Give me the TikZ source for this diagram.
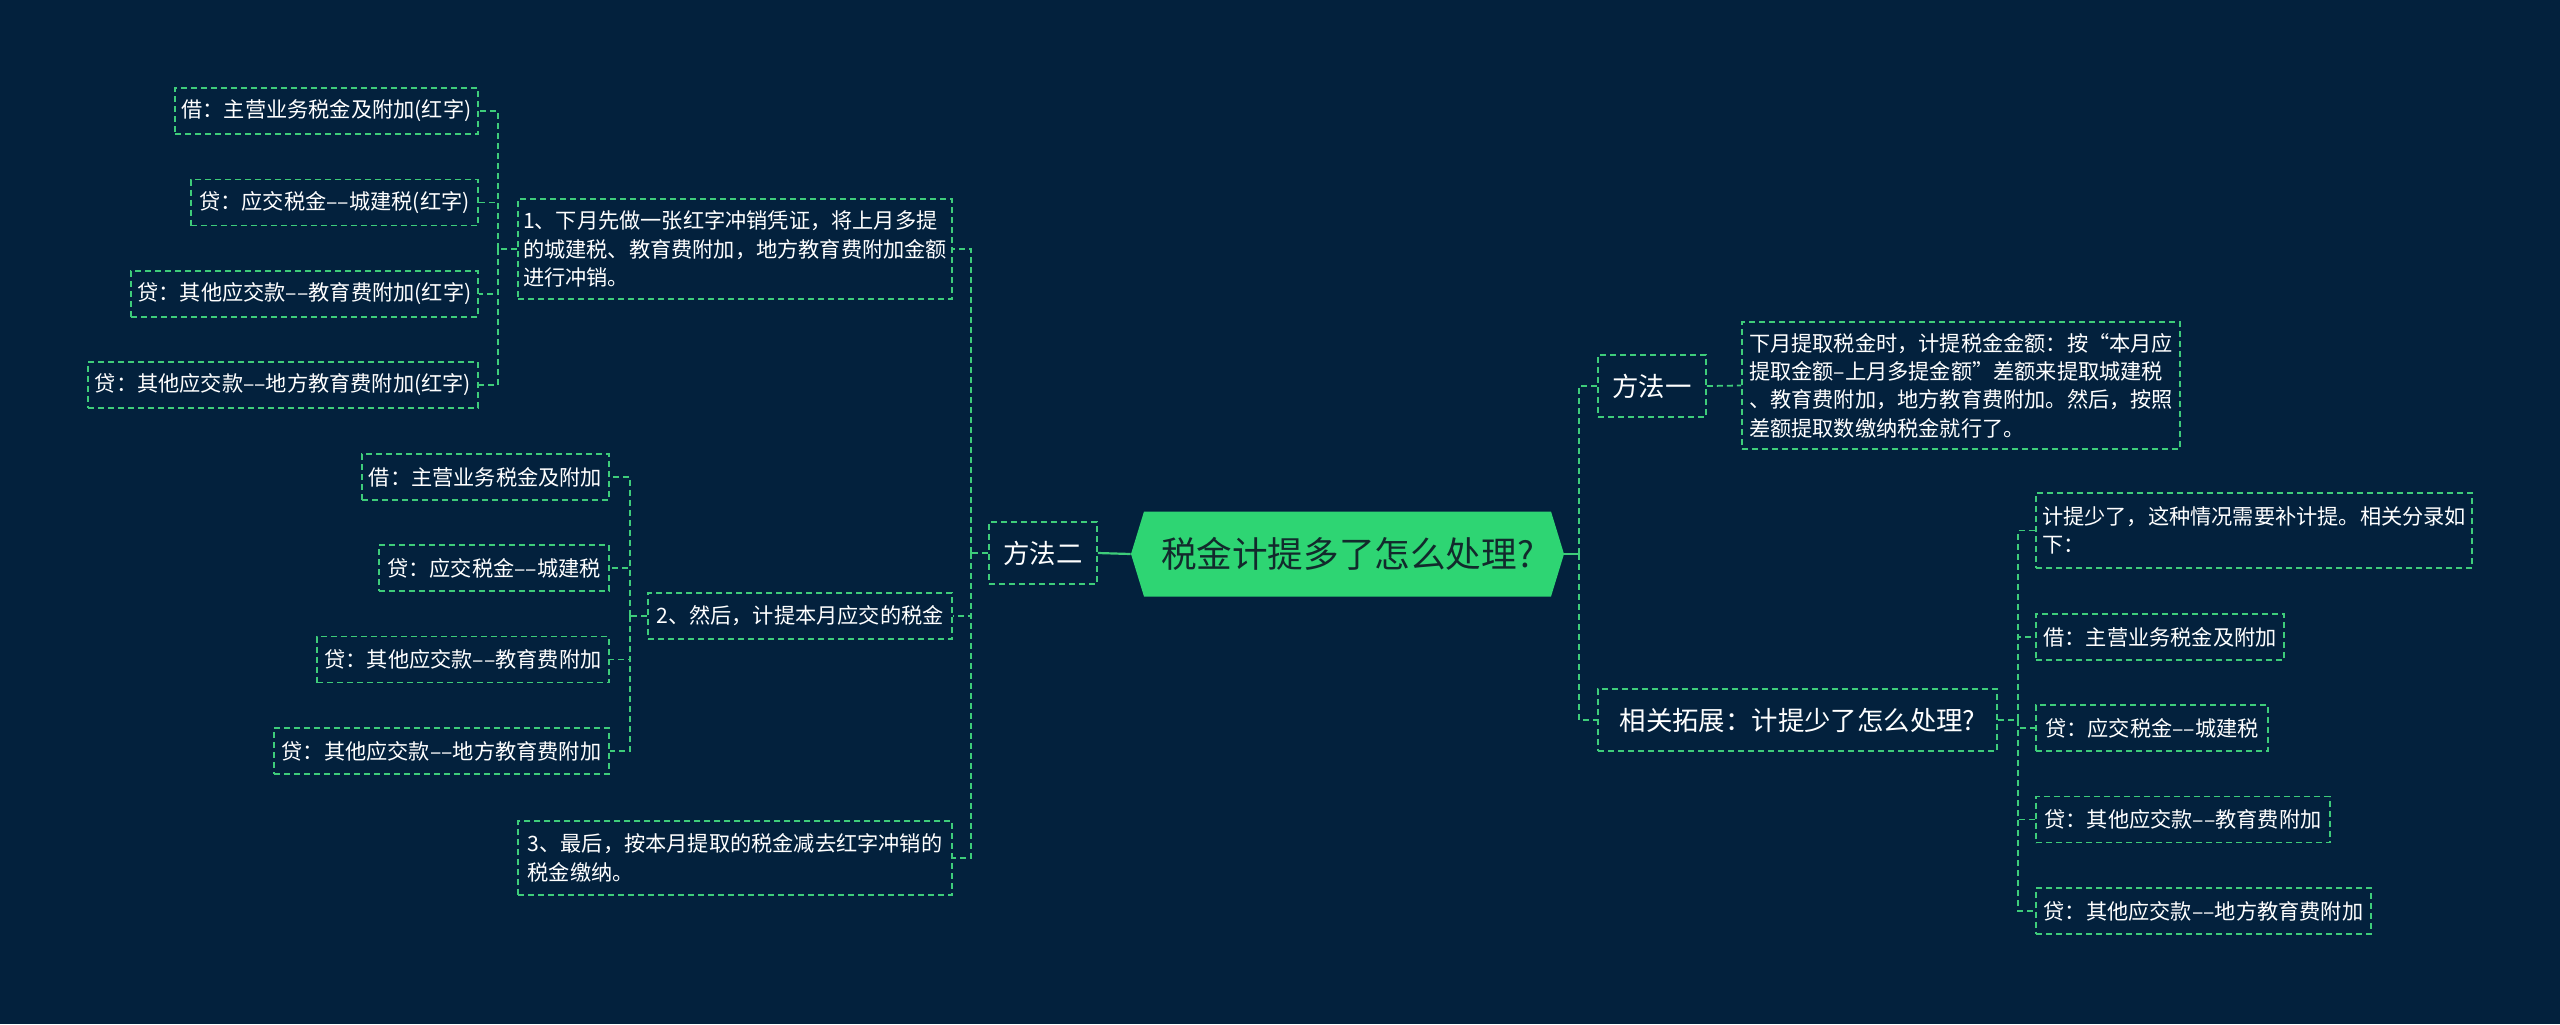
\documentclass[tikz,border=0pt]{standalone}
\usepackage{fontspec}
\newfontfamily\cjk{Noto Sans CJK SC}
\usetikzlibrary{shapes.symbols}
\definecolor{bgc}{RGB}{3,33,61}
\definecolor{lgreen}{RGB}{62,204,122}
\definecolor{rootfill}{RGB}{46,213,115}
\definecolor{roottext}{RGB}{18,42,44}
\begin{document}
\begin{tikzpicture}[x=0.5pt,y=-0.5pt,
  box/.style={draw=lgreen, dash pattern=on 3pt off 2pt, line width=0.9pt, text=white,
    font=\cjk\fontsize{10.6}{14.2}\selectfont, minimum height=23pt, inner sep=0pt, align=left},
  lvl1/.style={box, font=\cjk\fontsize{13.2}{16}\selectfont, minimum height=31pt},
  rootnode/.style={shape=signal, signal to=west and east, signal pointer angle=146,
    fill=rootfill, draw=none, text=roottext, font=\cjk\fontsize{17.8}{20}\selectfont,
    minimum width=216.5pt, minimum height=42.5pt, inner sep=0pt},
  conn/.style={draw=lgreen, line width=0.9pt, dash pattern=on 3pt off 2pt},
  solidconn/.style={draw=lgreen, line width=1.1pt}
]
\fill[bgc] (0,0) rectangle (2560,1024);
\useasboundingbox (0,0) rectangle (2560,1024);

% root and first level
\node[rootnode] (root) at (1347.5,554) {税金计提多了怎么处理?};
\node[lvl1, minimum width=54pt] (m2) at (1043,553) {方法二};
\node[lvl1, minimum width=54pt] (m1) at (1652,386) {方法一};
\node[lvl1, minimum width=199.5pt] (r2) at (1797.5,720) {相关拓展：计提少了怎么处理?};

% left second level
\node[box, minimum width=217pt, minimum height=50pt] (c1) at (735,249) {1、下月先做一张红字冲销凭证，将上月多提\\的城建税、教育费附加，地方教育费附加金额\\进行冲销。};
\node[box, minimum width=152pt] (c2) at (800,616) {2、然后，计提本月应交的税金};
\node[box, minimum width=217pt, minimum height=37pt] (c3) at (735,858) {3、最后，按本月提取的税金减去红字冲销的\\税金缴纳。};

% children of c1
\node[box, minimum width=151.5pt] (a1) at (326.5,111) {借：主营业务税金及附加(红字)};
\node[box, minimum width=143.5pt] (a2) at (334.5,202.5) {贷：应交税金––城建税(红字)};
\node[box, minimum width=173.5pt] (a3) at (304.5,294) {贷：其他应交款––教育费附加(红字)};
\node[box, minimum width=195pt] (a4) at (283,385) {贷：其他应交款––地方教育费附加(红字)};

% children of c2
\node[box, minimum width=123.5pt] (b1) at (485.5,477) {借：主营业务税金及附加};
\node[box, minimum width=115pt] (b2) at (494,568) {贷：应交税金––城建税};
\node[box, minimum width=146pt] (b3) at (463,659.5) {贷：其他应交款––教育费附加};
\node[box, minimum width=167.5pt] (b4) at (441.5,751) {贷：其他应交款––地方教育费附加};

% right side
\node[box, minimum width=219pt, minimum height=63.5pt] (d1) at (1961,385.5) {下月提取税金时，计提税金金额：按“本月应\\提取金额–上月多提金额”差额来提取城建税\\、教育费附加，地方教育费附加。然后，按照\\差额提取数缴纳税金就行了。};
\node[box, minimum width=218pt, minimum height=37.5pt] (e1) at (2254,530.5) {计提少了，这种情况需要补计提。相关分录如\\下：};
\node[box, minimum width=124pt] (e2) at (2160,637) {借：主营业务税金及附加};
\node[box, minimum width=116pt] (e3) at (2152,728) {贷：应交税金––城建税};
\node[box, minimum width=147pt] (e4) at (2183,819.5) {贷：其他应交款––教育费附加};
\node[box, minimum width=167.5pt] (e5) at (2203.5,911) {贷：其他应交款––地方教育费附加};

% trunk coordinates
\coordinate (tR) at (1579,554);
\coordinate (tL) at (971,553);
\coordinate (t1) at (498,249);
\coordinate (t2) at (630,616);
\coordinate (t3) at (2018,720);

% connectors
\draw[solidconn] (m2.east) -- (root.west);
\draw[solidconn] (root.east) -- (tR);
\draw[conn] (tR) |- (m1.west);
\draw[conn] (tR) |- (r2.west);
\draw[conn] (m1.east) -- (d1.west);

\draw[conn] (m2.west) -- (tL);
\draw[conn] (tL) |- (c1.east);
\draw[conn] (tL) |- (c2.east);
\draw[conn] (tL) |- (c3.east);

\draw[conn] (c1.west) -- (t1);
\foreach \n in {a1,a2,a3,a4} \draw[conn] (t1) |- (\n.east);
\draw[conn] (c2.west) -- (t2);
\foreach \n in {b1,b2,b3,b4} \draw[conn] (t2) |- (\n.east);
\draw[conn] (r2.east) -- (t3);
\foreach \n in {e1,e2,e3,e4,e5} \draw[conn] (t3) |- (\n.west);
\end{tikzpicture}
\end{document}
